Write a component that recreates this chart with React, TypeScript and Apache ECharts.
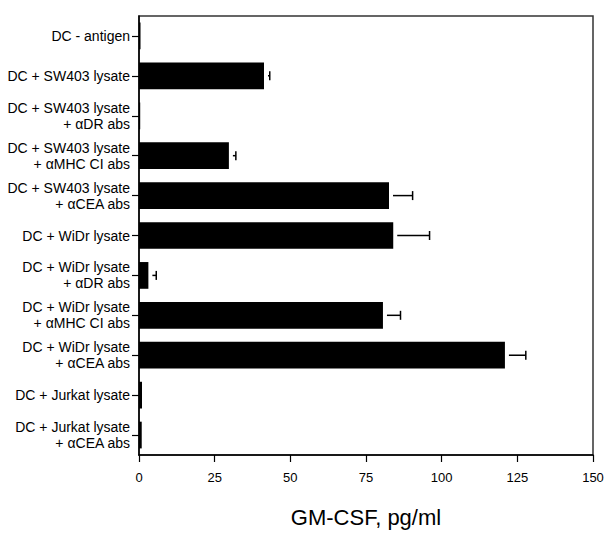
import React, { useEffect, useRef } from "react";
import * as echarts from "echarts";

const categories = [
  "DC - antigen",
  "DC + SW403 lysate",
  "DC + SW403 lysate\n+ αDR abs",
  "DC + SW403 lysate\n+ αMHC CI abs",
  "DC + SW403 lysate\n+ αCEA abs",
  "DC + WiDr lysate",
  "DC + WiDr lysate\n+ αDR abs",
  "DC + WiDr lysate\n+ αMHC CI abs",
  "DC + WiDr lysate\n+ αCEA abs",
  "DC + Jurkat lysate",
  "DC + Jurkat lysate\n+ αCEA abs",
];
const gmcsf = [0.5, 41.3, 0.4, 29.7, 82.6, 84.0, 3.1, 80.6, 120.9, 1.0, 0.9];
const errors = [0, 1.9, 0, 2.3, 7.8, 12.0, 2.6, 5.8, 6.9, 0, 0];
const xTicks = [0, 25, 50, 75, 100, 125, 150];
const xTitle = "GM-CSF, pg/ml";

const FONT = "'Liberation Sans', Arial, Helvetica, sans-serif";

export default function App() {
  const ref = useRef<HTMLDivElement>(null);
  useEffect(() => {
    if (!ref.current) return;
    const chart = echarts.init(ref.current, null, { renderer: "svg" });
    const errData = gmcsf
      .map((v, i) => [v, i, v + errors[i]])
      .filter((d, i) => errors[i] > 0);
    chart.setOption({
      animation: false,
      backgroundColor: "#fff",
      grid: {
        left: 139,
        right: 22,
        top: 16,
        bottom: 76,
        show: true,
        borderColor: "#333",
        borderWidth: 1.5,
      },
      xAxis: {
        type: "value",
        min: xTicks[0],
        max: xTicks[xTicks.length - 1],
        interval: 25,
        splitLine: { show: false },
        axisLine: { show: true, lineStyle: { color: "#000", width: 1.5 } },
        axisTick: { show: true, length: 7, lineStyle: { color: "#000", width: 1.2 } },
        axisLabel: { color: "#000", fontSize: 13, fontFamily: FONT, margin: 16 },
        name: xTitle,
        nameLocation: "middle",
        nameGap: 51,
        nameTextStyle: { color: "#000", fontSize: 22, fontFamily: FONT },
      },
      yAxis: {
        type: "category",
        data: categories,
        inverse: true,
        axisLine: { show: true, lineStyle: { color: "#000", width: 1.5 } },
        axisTick: { show: true, alignWithLabel: true, length: 7, lineStyle: { color: "#000", width: 1.2 } },
        axisLabel: {
          color: "#000",
          fontSize: 14,
          fontFamily: FONT,
          margin: 9,
          lineHeight: 16,
          align: "right",
        },
      },
      series: [
        {
          type: "bar",
          data: gmcsf,
          barCategoryGap: "33%",
          itemStyle: { color: "#000" },
        },
        {
          type: "custom",
          data: errData,
          encode: { x: [0, 2], y: 1 },
          renderItem: (params: any, api: any) => {
            const s = api.coord([api.value(0), api.value(1)]);
            const e = api.coord([api.value(2), api.value(1)]);
            const style = { stroke: "#000", lineWidth: 1.5 };
            const x0 = Math.min(s[0] + 4, e[0]);
            return {
              type: "group",
              children: [
                { type: "line", shape: { x1: x0, y1: s[1], x2: e[0], y2: e[1] }, style },
                { type: "line", shape: { x1: e[0], y1: e[1] - 4.5, x2: e[0], y2: e[1] + 4.5 }, style },
              ],
            };
          },
          z: 3,
        },
      ],
    });
    return () => chart.dispose();
  }, []);
  return (
    <div
      ref={ref}
      style={{ position: "fixed", left: 0, top: 0, width: 615, height: 533 }}
    />
  );
}
